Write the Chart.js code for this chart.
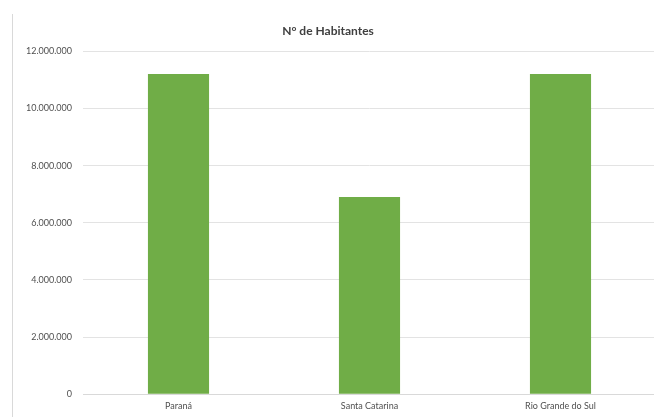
<!DOCTYPE html>
<html>
<head>
<meta charset="utf-8">
<script src="https://cdn.jsdelivr.net/npm/chart.js@4"></script>
<style>
  html, body { margin: 0; padding: 0; background: #fff; overflow: hidden; }
  #wrap { position: relative; width: 654px; height: 417px; overflow: hidden; }
  #frame { position: absolute; left: 12px; top: 14px; width: 1px; height: 403px; background: #d9d9d9; }
  #box { position: absolute; left: 0; top: 0; width: 676px; height: 417px; }
</style>
</head>
<body>
<div id="wrap">
  <div id="frame"></div>
  <div id="box"><canvas id="chart"></canvas></div>
</div>
<script>
const estados = ['Paraná', 'Santa Catarina', 'Rio Grande do Sul'];
const habitantes = [11210000, 6900000, 11210000];
const tituloGrafico = 'N° de Habitantes';
const eixoMax = 12000000;
const eixoPasso = 2000000;

function formatarNumero(v) {
    return String(Math.round(v)).replace(/\B(?=(\d{3})+(?!\d))/g, '.');
}

const ctx = document.getElementById('chart').getContext('2d');
new Chart(ctx, {
    type: 'bar',
    data: {
        labels: estados,
        datasets: [{
            label: tituloGrafico,
            data: habitantes,
            backgroundColor: '#70ad47',
            borderWidth: 0,
            barPercentage: 0.32,
            categoryPercentage: 1
        }]
    },
    options: {
        responsive: true,
        maintainAspectRatio: false,
        animation: false,
        layout: { padding: { left: 0, right: 20, top: 0, bottom: 0 } },
        plugins: {
            legend: { display: false },
            tooltip: { enabled: false },
            title: {
                display: true,
                text: tituloGrafico,
                color: '#404040',
                font: { family: 'Lato', size: 12, weight: 'bold' },
                padding: { top: 24, bottom: 13 }
            }
        },
        scales: {
            x: {
                grid: { display: false, drawTicks: false },
                border: { display: true, color: '#d9d9d9' },
                ticks: {
                    color: '#505050',
                    font: { family: 'Lato', size: 9 },
                    padding: 6,
                    maxRotation: 0
                }
            },
            y: {
                min: 0,
                max: eixoMax,
                afterFit: function (scale) { scale.width = 83; },
                grid: { color: '#e3e3e3', drawTicks: false },
                border: { display: false },
                ticks: {
                    stepSize: eixoPasso,
                    color: '#505050',
                    font: { family: 'Lato', size: 9 },
                    padding: 11,
                    callback: function (v) { return formatarNumero(v); }
                }
            }
        }
    }
});
</script>
</body>
</html>
